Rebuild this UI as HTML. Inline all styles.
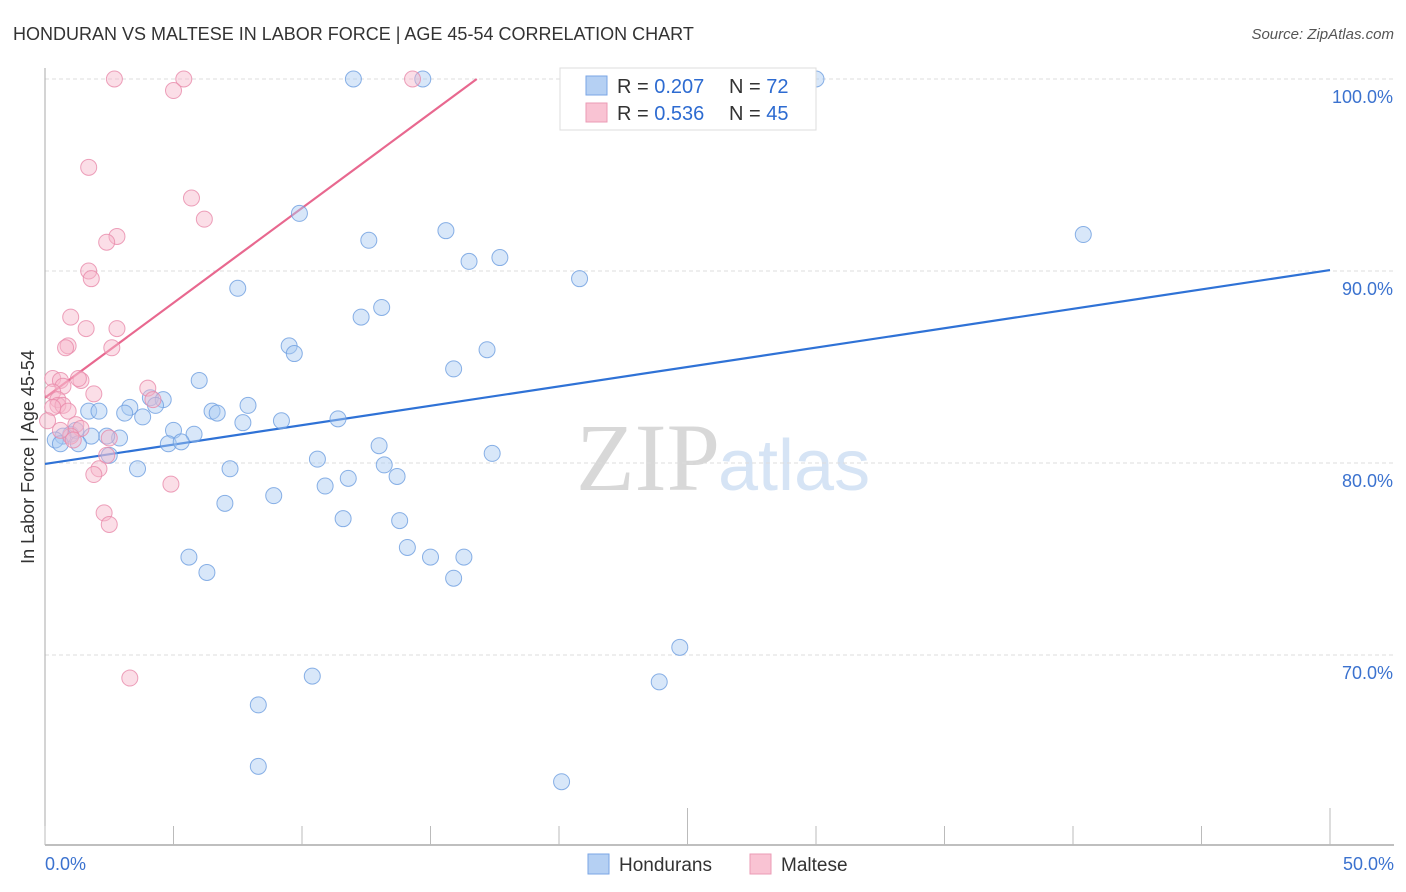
<!DOCTYPE html>
<html><head><meta charset="utf-8">
<style>
body{margin:0;background:#fff;font-family:"Liberation Sans",sans-serif;}
#wrap{position:relative;width:1406px;height:892px;overflow:hidden;}
</style></head>
<body>
<div id="wrap">
<svg id="chart" width="1406" height="892" xmlns="http://www.w3.org/2000/svg">
  <text x="13" y="40" font-size="18" fill="#333">HONDURAN VS MALTESE IN LABOR FORCE | AGE 45-54 CORRELATION CHART</text>
  <text x="1394" y="39" font-size="15" fill="#555" font-style="italic" text-anchor="end">Source: ZipAtlas.com</text>
  <text x="720" y="490" font-size="96" fill="#d8d8d8" text-anchor="end" font-family="Liberation Serif, serif">ZIP</text>
  <text x="718" y="490" font-size="72" fill="#d6e4f5">atlas</text>
  <text transform="translate(34,457) rotate(-90)" font-size="18" fill="#333" text-anchor="middle">In Labor Force | Age 45-54</text>
  <g id="grid"></g>
  <g id="axes"></g>
  <g id="lines"></g>
  <g id="pts"></g>
  <g>
    <rect x="560" y="68" width="256" height="62" fill="#fff" stroke="#ddd"/>
    <rect x="586" y="76" width="21" height="19" fill="#b5d0f3" stroke="#7aa6e6"/>
    <rect x="586" y="103" width="21" height="19" fill="#f9c3d3" stroke="#eb9bb6"/>
    <text x="617" y="93" font-size="20" fill="#333">R = <tspan fill="#2d6bd1">0.207</tspan></text>
    <text x="729" y="93" font-size="20" fill="#333">N = <tspan fill="#2d6bd1">72</tspan></text>
    <text x="617" y="120" font-size="20" fill="#333">R = <tspan fill="#2d6bd1">0.536</tspan></text>
    <text x="729" y="120" font-size="20" fill="#333">N = <tspan fill="#2d6bd1">45</tspan></text>
  </g>
  <g>
    <rect x="588" y="854" width="21" height="20" fill="#b5d0f3" stroke="#7aa6e6"/>
    <text x="619" y="871" font-size="19" fill="#333">Hondurans</text>
    <rect x="750" y="854" width="21" height="20" fill="#f9c3d3" stroke="#eb9bb6"/>
    <text x="781" y="871" font-size="19" fill="#333">Maltese</text>
  </g>
</svg>
</div>
<script>
const yTicks=[100,90,80,70];
const yTickLabels=["100.0%","90.0%","80.0%","70.0%"];
const xTickLabels=["0.0%","50.0%"];
const hondX=[12.0,14.7,27.4,30.0,21.2,9.9,12.6,15.6,16.5,17.7,20.8,40.4,7.5,12.3,13.1,9.5,9.7,17.2,15.9,6.0,4.1,4.6,3.3,4.3,1.7,2.1,3.1,3.8,6.5,6.7,7.9,7.7,9.2,11.4,5.0,5.8,4.8,5.3,2.9,2.4,1.8,1.0,1.2,0.7,0.4,0.6,1.3,2.5,3.6,7.2,10.6,13.0,13.2,13.7,17.4,11.8,10.9,8.9,7.0,11.6,13.8,14.1,15.0,16.3,15.9,5.6,6.3,24.7,10.4,23.9,8.3,8.3,20.1];
const hondY=[100,100,100,100,100,93.0,91.6,92.1,90.5,90.7,89.6,91.9,89.1,87.6,88.1,86.1,85.7,85.9,84.9,84.3,83.4,83.3,82.9,83.0,82.7,82.7,82.6,82.4,82.7,82.6,83.0,82.1,82.2,82.3,81.7,81.5,81.0,81.1,81.3,81.4,81.4,81.5,81.7,81.4,81.2,81.0,81.0,80.4,79.7,79.7,80.2,80.9,79.9,79.3,80.5,79.2,78.8,78.3,77.9,77.1,77.0,75.6,75.1,75.1,74.0,75.1,74.3,70.4,68.9,68.6,67.4,64.2,63.4];
const maltX=[2.7,5.4,14.3,5.0,1.7,5.7,6.2,2.8,2.4,1.7,1.8,1.0,1.6,2.8,0.9,0.8,2.6,0.3,0.6,1.4,1.3,0.7,4.0,1.9,0.3,0.5,0.5,0.7,0.9,0.3,0.1,1.2,1.4,1.0,1.1,2.5,2.4,2.1,1.9,4.9,2.3,2.5,3.3,4.2,0.6];
const maltY=[100,100,100,99.4,95.4,93.8,92.7,91.8,91.5,90.0,89.6,87.6,87.0,87.0,86.1,86.0,86.0,84.4,84.3,84.3,84.4,84.0,83.9,83.6,83.7,83.3,83.0,83.0,82.7,82.9,82.2,82.0,81.8,81.4,81.2,81.3,80.4,79.7,79.4,78.9,77.4,76.8,68.8,83.3,81.7];
const hondTrend=[[0,79.95],[50,90.05]];
const maltTrend=[[0,83.4],[16.8,100]];

const NS="http://www.w3.org/2000/svg";
const xs=v=>45+v*25.7;
const ys=v=>79+(100-v)*19.2;
function mk(tag,attrs,parent){const e=document.createElementNS(NS,tag);for(const k in attrs)e.setAttribute(k,attrs[k]);parent.appendChild(e);return e;}
const grid=document.getElementById('grid'),axes=document.getElementById('axes'),lines=document.getElementById('lines'),pts=document.getElementById('pts');
yTicks.forEach((t,i)=>{
  const l=mk('line',{x1:45,x2:1394,y1:ys(t),y2:ys(t),stroke:'#ddd','stroke-dasharray':'4,3'},grid);
  
  
  const tx=mk('text',{x:1393,y:ys(t)+24,'font-size':18,fill:'#3b72cf','text-anchor':'end'},grid);
  tx.textContent=yTickLabels[i];
  
  
});
const ya=mk('line',{x1:45,x2:45,y1:68,y2:845,stroke:'#aaa'},axes);


const xa=mk('line',{x1:45,x2:1394,y1:845,y2:845,stroke:'#aaa','stroke-width':1.5},axes);


for(let i=0;i<=10;i++){
  const v=i*5;const tall=(i===5||i===10);
  const tk=mk('line',{x1:xs(v),x2:xs(v),y1:tall?808:826,y2:845,stroke:'#bbb'},axes);
  
  
}
[0,50].forEach((v,i)=>{
  const tx=mk('text',{x:i?1394:45,y:870,'font-size':18,fill:'#3b72cf','text-anchor':i?'end':'start'},axes);
  tx.textContent=xTickLabels[i];
  
  
});
function dots(X,Y,fill,stroke,name){
  X.forEach((x,i)=>{
    const c=mk('circle',{cx:xs(x),cy:ys(Y[i]),r:8,fill:fill,'fill-opacity':0.45,stroke:stroke,'stroke-opacity':0.8,'stroke-width':1},pts);
    
    
  });
}
dots(hondX,hondY,'#a9c9f2','#6d9de0','honduran-point');
dots(maltX,maltY,'#f7b5ca','#e98aaa','maltese-point');
const bl=mk('line',{x1:xs(hondTrend[0][0]),y1:ys(hondTrend[0][1]),x2:xs(hondTrend[1][0]),y2:ys(hondTrend[1][1]),stroke:'#2f72d6','stroke-width':2.2},lines);


const pl=mk('line',{x1:xs(maltTrend[0][0]),y1:ys(maltTrend[0][1]),x2:xs(maltTrend[1][0]),y2:ys(maltTrend[1][1]),stroke:'#e8688f','stroke-width':2.2},lines);


</script>
</body></html>
